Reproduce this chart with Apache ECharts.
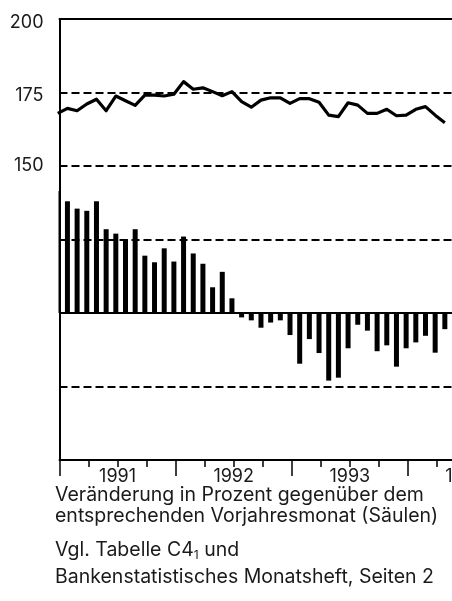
<!DOCTYPE html>
<html>
<head>
<meta charset="utf-8">
<script src="https://cdn.jsdelivr.net/npm/echarts@6/dist/echarts.min.js"></script>
<style>
html,body{margin:0;padding:0;background:#fff;overflow:hidden;width:452px;height:601px}
#chart{width:527px;height:601px}
</style>
</head>
<body>
<div id="chart"></div>
<script>
// Monatswerte, Index 0 = Ende Dez. 1990
var bestand = [167.9, 169.6, 168.8, 171.1, 172.7, 168.8, 173.8, 172.2, 170.6, 174.1,
               174.1, 173.8, 174.4, 178.7, 176.1, 176.6, 175.3, 173.9, 175.3, 171.9,
               170.0, 172.4, 173.2, 173.2, 171.3, 172.9, 172.9, 171.7, 167.3, 166.8,
               171.5, 170.7, 167.9, 167.9, 169.3, 167.1, 167.3, 169.3, 170.2, 167.3,
               164.7];
// Veränderung gegenüber Vorjahresmonat in %
var veraenderung = [16.6, 15.2, 14.2, 13.9, 15.2, 11.4, 10.8, 10.05, 11.4, 7.8,
                    6.9, 8.8, 7.0, 10.4, 8.1, 6.7, 3.5, 5.6, 2.0, -0.6,
                    -1.0, -2.0, -1.3, -1.0, -3.0, -6.9, -3.55, -5.45, -9.2, -8.8,
                    -4.8, -1.6, -2.4, -5.2, -4.4, -7.3, -4.8, -4.0, -3.1, -5.4,
                    -2.2];
var jahre = ['1991', '1992', '1993', '1994'];
var indexLabels = [150, 175, 200];

var textColor = '#1a1a1a';
var fontFamily = 'Inter, "Liberation Sans", sans-serif';

var chart = echarts.init(document.getElementById('chart'), null, {renderer: 'canvas'});

function toPairs(arr) {
	return arr.map(function (v, i) { return [i, v]; });
}

var option = {
	animation: false,
	backgroundColor: '#fff',
	// Zeichenfläche reicht über den rechten Bildrand hinaus
	grid: {left: 59.5, top: 19, right: 0, bottom: 141},
	xAxis: [
		{
			// Jahres- und Quartalsstriche
			type: 'value', min: 0, max: 48, interval: 12, position: 'bottom',
			axisLine: {show: true, onZero: false, lineStyle: {color: '#000', width: 2}},
			axisTick: {show: true, length: 16, lineStyle: {color: '#000', width: 1.5}},
			minorTick: {show: true, splitNumber: 4, length: 7, lineStyle: {color: '#000', width: 1.5}},
			axisLabel: {show: false},
			splitLine: {show: false},
			minorSplitLine: {show: false}
		},
		{
			// Jahresbeschriftung in der Jahresmitte
			type: 'value', min: 0, max: 48, interval: 6, position: 'bottom',
			axisLine: {show: false, onZero: false}, axisTick: {show: false}, splitLine: {show: false},
			axisLabel: {
				show: true, margin: 8, fontSize: 18, color: textColor, fontFamily: fontFamily,
				formatter: function (v) {
					var n = Math.round(v / 6);
					return n % 2 === 1 ? jahre[(n - 1) / 2] : '';
				}
			}
		},
		{
			// Datenachse (Monatsende), oben als Rahmen
			type: 'value', min: 0.18, max: 48.18, position: 'top',
			axisLine: {show: true, onZero: false, lineStyle: {color: '#000', width: 2}},
			axisTick: {show: false}, axisLabel: {show: false}, splitLine: {show: false}
		}
	],
	yAxis: [
		{
			type: 'value', min: 50, max: 200, interval: 25,
			axisLine: {show: true, onZero: false, lineStyle: {color: '#000', width: 2}},
			axisTick: {show: false},
			axisLabel: {
				margin: 16, fontSize: 18, color: textColor, fontFamily: fontFamily,
				formatter: function (v) {
					if (indexLabels.indexOf(v) < 0) return '';
					return v === 150 ? '{a|' + v + '}' : '{b|' + v + '}';
				},
				rich: {
					a: {fontSize: 18, color: textColor, fontFamily: fontFamily},
					b: {fontSize: 18, color: textColor, fontFamily: fontFamily, padding: [7, 0, 0, 0]}
				}
			},
			splitLine: {show: true, lineStyle: {color: '#000', width: 2, type: [8, 4]}},
			z: 5
		},
		{
			type: 'value', min: -20, max: 40, interval: 10, show: false
		}
	],
	series: [
		{
			name: 'Veränderung',
			type: 'bar',
			xAxisIndex: 2, yAxisIndex: 1,
			barWidth: 5,
			clip: true,
			itemStyle: {color: '#000'},
			data: toPairs(veraenderung),
			markLine: {
				silent: true, symbol: 'none', label: {show: false},
				lineStyle: {color: '#000', width: 2, type: 'solid'},
				data: [{yAxis: 0}]
			},
			z: 3
		},
		{
			name: 'Bestand',
			type: 'line',
			xAxisIndex: 2, yAxisIndex: 0,
			showSymbol: false, symbol: 'none',
			clip: true,
			lineStyle: {color: '#000', width: 3.2, join: 'round'},
			data: toPairs(bestand),
			z: 4
		}
	],
	graphic: [
		// Säule am linken Rand nur innerhalb der Zeichenfläche zeigen
		{type: 'rect', left: 44, top: 180, z: 50, silent: true,
			shape: {width: 14.5, height: 275}, style: {fill: '#fff'}},
		{type: 'text', left: 55, top: 485,
			style: {text: 'Veränderung in Prozent gegenüber dem', fontSize: 19.5, fontFamily: fontFamily, fill: textColor}},
		{type: 'text', left: 55, top: 506,
			style: {text: 'entsprechenden Vorjahresmonat (Säulen)', fontSize: 19.5, fontFamily: fontFamily, fill: textColor}},
		{type: 'text', left: 55, top: 540,
			style: {
				text: '{n|Vgl. Tabelle C4}{s|1}{n| und}',
				rich: {
					n: {fontSize: 19.5, fontFamily: fontFamily, fill: textColor, color: textColor, lineHeight: 21, verticalAlign: 'bottom'},
					s: {fontSize: 12, fontFamily: fontFamily, fill: textColor, color: textColor, lineHeight: 21, verticalAlign: 'bottom', padding: [0, 0, -1, 0]}
				}
			}},
		{type: 'text', left: 55, top: 567,
			style: {text: 'Bankenstatistisches Monatsheft, Seiten 2', fontSize: 19.5, fontFamily: fontFamily, fill: textColor}}
	]
};

chart.setOption(option);
</script>
</body>
</html>
